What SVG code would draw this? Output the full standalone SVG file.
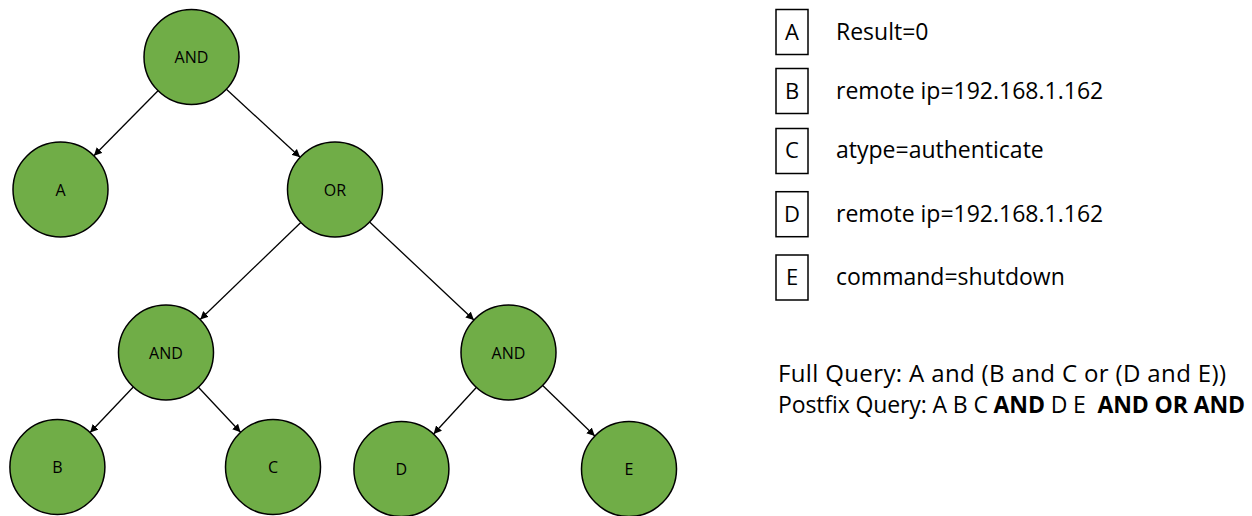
<svg xmlns="http://www.w3.org/2000/svg" width="1252" height="516" viewBox="0 0 1252 516">
<style>
.node circle{fill:#70AD47;stroke:#000;stroke-width:1.5}
.node text{font-family:"Open Sans","Noto Sans",sans-serif;font-size:16px;fill:#000;text-anchor:middle;dominant-baseline:central}
.edge{stroke:#000;stroke-width:1.3;fill:none;marker-end:url(#arr)}
.key rect{fill:#fff;stroke:#000;stroke-width:1.5}
.key text{font-family:"Open Sans","Noto Sans",sans-serif;font-size:23px;fill:#000}
.key .l{text-anchor:middle;font-size:22px}
.q{font-family:"Open Sans","Noto Sans",sans-serif;font-size:23px;fill:#000;white-space:pre}
.q1{font-size:24px}
.b{font-weight:bold}
</style>
<defs>
<marker id="arr" viewBox="0 0 10 10" refX="10" refY="5" markerWidth="8" markerHeight="8" markerUnits="userSpaceOnUse" orient="auto">
<path d="M0,0 L10,5 L0,10 Z" fill="#000"/>
</marker>
</defs>
<g id="connectors">
<line class="edge" x1="158" y1="90.8" x2="93.9" y2="155.7"/>
<line class="edge" x1="226.4" y1="89.2" x2="300.1" y2="157.3"/>
<line class="edge" x1="300.8" y1="222.5" x2="200.2" y2="319.5"/>
<line class="edge" x1="369.6" y1="222" x2="473.9" y2="320"/>
<line class="edge" x1="133.3" y1="387" x2="90.1" y2="432.5"/>
<line class="edge" x1="198.4" y1="387.2" x2="240.6" y2="432.3"/>
<line class="edge" x1="476.3" y1="387.5" x2="433.6" y2="434"/>
<line class="edge" x1="542.7" y1="385.5" x2="594.8" y2="436"/>
</g>
<g id="n-and-root" class="node"><circle cx="191.5" cy="57" r="47.5"/><text x="191.5" y="57">AND</text></g>
<g id="n-a" class="node"><circle cx="60.5" cy="189.5" r="47.5"/><text x="60.5" y="189.5">A</text></g>
<g id="n-or" class="node"><circle cx="335" cy="189.5" r="47.5"/><text x="335" y="189.5">OR</text></g>
<g id="n-and-left" class="node"><circle cx="166" cy="352.5" r="47.5"/><text x="166" y="352.5">AND</text></g>
<g id="n-and-right" class="node"><circle cx="508.5" cy="352.5" r="47.5"/><text x="508.5" y="352.5">AND</text></g>
<g id="n-b" class="node"><circle cx="57.4" cy="467" r="47.5"/><text x="57.4" y="467">B</text></g>
<g id="n-c" class="node"><circle cx="273" cy="467" r="47.5"/><text x="273" y="467">C</text></g>
<g id="n-d" class="node"><circle cx="401.4" cy="469" r="47.5"/><text x="401.4" y="469">D</text></g>
<g id="n-e" class="node"><circle cx="629" cy="469" r="47.5"/><text x="629" y="469">E</text></g>
<g id="legend" class="key">
<g id="key-a"><rect x="776" y="9.5" width="32" height="45"/><text class="l" x="792" y="39.5">A</text><text x="836" y="39.5">Result=0</text></g>
<g id="key-b"><rect x="776" y="68.5" width="32" height="45"/><text class="l" x="792" y="98.7">B</text><text x="836" y="98.7">remote ip=192.168.1.162</text></g>
<g id="key-c"><rect x="776" y="128.5" width="32" height="45"/><text class="l" x="792" y="158.3">C</text><text x="836" y="158.3">atype=authenticate</text></g>
<g id="key-d"><rect x="776" y="191.7" width="32" height="45"/><text class="l" x="792" y="221.7">D</text><text x="836" y="221.7">remote ip=192.168.1.162</text></g>
<g id="key-e"><rect x="776" y="255" width="32" height="45"/><text class="l" x="792" y="285">E</text><text x="836" y="285">command=shutdown</text></g>
</g>
<g id="queries">
<text class="q q1" x="778" y="381.7" textLength="448">Full Query: A and (B and C or (D and E))</text>
<text class="q" x="778" y="413.3" textLength="467" xml:space="preserve">Postfix Query: A B C <tspan class="b">AND</tspan> D E  <tspan class="b">AND OR AND</tspan></text>
</g>
</svg>
